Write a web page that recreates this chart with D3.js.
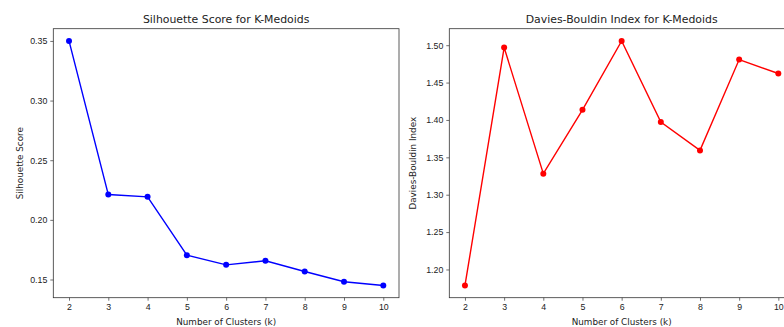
<!DOCTYPE html>
<html>
<head>
<meta charset="utf-8">
<script src="https://cdn.jsdelivr.net/npm/d3@7"></script>
<style>
  html, body { margin: 0; padding: 0; background: #fff; }
  svg { display: block; font-family: "DejaVu Sans", sans-serif; }
  .tick text { font-size: 8.8px; fill: #222; }
  .tick line { stroke: #333; stroke-width: 0.7; }
  .domain { display: none; }
</style>
</head>
<body>
<div id="chart"></div>
<script>
  'use strict';

  var clusters = [2, 3, 4, 5, 6, 7, 8, 9, 10];
  var silhouette = [0.350, 0.2212, 0.2193, 0.1704, 0.1623, 0.1657, 0.1567, 0.1481, 0.1450];
  var daviesBouldin = [1.1786, 1.4968, 1.3282, 1.4136, 1.5057, 1.3972, 1.3593, 1.4808, 1.4621];
  var silTicks = [0.15, 0.20, 0.25, 0.30, 0.35];
  var dbTicks = [1.20, 1.25, 1.30, 1.35, 1.40, 1.45, 1.50];

  var W = 784, H = 327;
  var svg = d3.select("#chart").append("svg").attr("width", W).attr("height", H);

  function drawPanel(opt) {
    var left = opt.left, right = opt.right, top = 28.7, bottom = 297.7;
    var g = svg.append("g");

    // same 5% margins matplotlib uses
    var x = d3.scaleLinear().domain([1.6, 10.4]).range([left, right]);
    var ext = d3.extent(opt.values);
    var pad = (ext[1] - ext[0]) * 0.05;
    var y = d3.scaleLinear().domain([ext[0] - pad, ext[1] + pad]).range([bottom, top]);

    g.append("g").attr("transform", "translate(0," + bottom + ")")
      .call(d3.axisBottom(x).tickValues(clusters).tickFormat(d3.format("d")).tickSize(3).tickPadding(3));
    g.append("g").attr("transform", "translate(" + left + ",0)")
      .call(d3.axisLeft(y).tickValues(opt.ticks).tickFormat(d3.format(".2f")).tickSize(3).tickPadding(3));

    g.append("rect").attr("x", left).attr("y", top)
      .attr("width", right - left).attr("height", bottom - top)
      .attr("fill", "none").attr("stroke", "#333").attr("stroke-width", 0.8);

    var line = d3.line().x(function (d, i) { return x(clusters[i]); }).y(function (d) { return y(d); });
    g.append("path").datum(opt.values).attr("d", line)
      .attr("fill", "none").attr("stroke", opt.color).attr("stroke-width", 1.4);
    g.selectAll("circle.pt").data(opt.values).enter().append("circle")
      .attr("class", "pt")
      .attr("cx", function (d, i) { return x(clusters[i]); })
      .attr("cy", function (d) { return y(d); })
      .attr("r", 3).attr("fill", opt.color);

    var cx = (left + right) / 2;
    g.append("text").attr("x", cx).attr("y", 23).attr("text-anchor", "middle")
      .attr("font-size", 10.9).attr("fill", "#222").text(opt.title);
    g.append("text").attr("x", cx).attr("y", 325)
      .attr("text-anchor", "middle").attr("font-size", 8.8).attr("fill", "#222")
      .text("Number of Clusters (k)");
    g.append("text").attr("transform", "translate(" + opt.ylabelX + "," + ((top + bottom) / 2) + ") rotate(-90)")
      .attr("text-anchor", "middle").attr("font-size", 8.8).attr("fill", "#222").text(opt.ylabel);
  }

  drawPanel({
    left: 53.3, right: 399, values: silhouette, ticks: silTicks, color: "blue",
    title: "Silhouette Score for K-Medoids", ylabel: "Silhouette Score", ylabelX: 22.5
  });
  drawPanel({
    left: 449.3, right: 794, values: daviesBouldin, ticks: dbTicks, color: "red",
    title: "Davies-Bouldin Index for K-Medoids", ylabel: "Davies-Bouldin Index", ylabelX: 416
  });
</script>
</body>
</html>
